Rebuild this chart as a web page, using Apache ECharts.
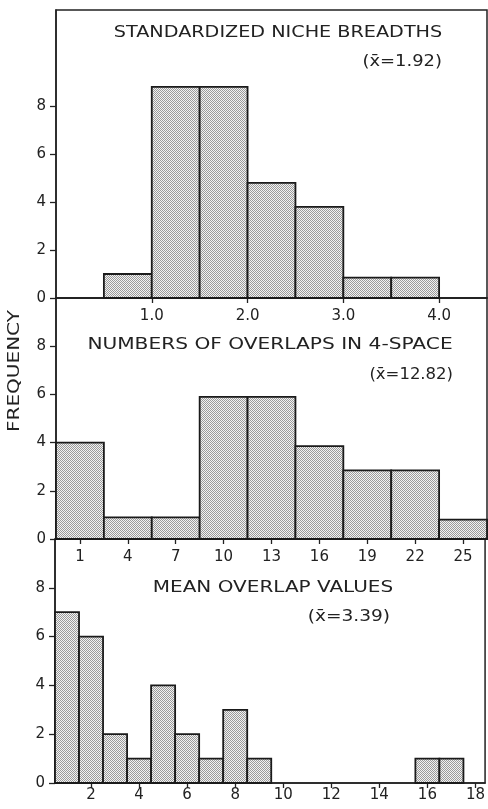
<!DOCTYPE html>
<html>
<head>
<meta charset="utf-8">
<script src="https://cdn.jsdelivr.net/npm/echarts@6/dist/echarts.min.js"></script>
<style>
  html, body { margin: 0; padding: 0; background: #fff; }
  #chart { width: 488px; height: 809px; }
</style>
</head>
<body>
<div id="chart"></div>
<script>
// panel 1: standardized niche breadths (bins of width 0.5)
const nicheBinStart = [0.5, 1.0, 1.5, 2.0, 2.5, 3.0, 3.5];
const nicheFreq = [1, 8.8, 8.8, 4.8, 3.8, 0.85, 0.85];
const nicheTicks = [1, 2, 3, 4];

// panel 2: numbers of overlaps in 4-space (bins of width 3, centred on the label)
const overlapBinCentre = [1, 4, 7, 10, 13, 16, 19, 22, 25];
const overlapFreq = [4, 0.9, 0.9, 5.9, 5.9, 3.85, 2.85, 2.85, 0.8];
const overlapTicks = [1, 4, 7, 10, 13, 16, 19, 22, 25];

// panel 3: mean overlap values (bins of width 1, centred on integers)
const meanBinCentre = [1, 2, 3, 4, 5, 6, 7, 8, 9, 16, 17];
const meanFreq = [7, 6, 2, 1, 4, 2, 1, 3, 1, 1, 1];
const meanTicks = [2, 4, 6, 8, 10, 12, 14, 16, 18];

const freqTicks = [0, 2, 4, 6, 8];

const ink = '#222';
const font = 'DejaVu Sans';

// stippled fill like the printed screen
const dots = document.createElement('canvas');
dots.width = 2;
dots.height = 2;
const dctx = dots.getContext('2d');
dctx.fillStyle = '#f2f2f2';
dctx.fillRect(0, 0, 2, 2);
dctx.fillStyle = '#9a9a9a';
dctx.fillRect(0, 0, 1, 1);
dctx.fillRect(1, 1, 1, 1);
const stipple = { image: dots, repeat: 'repeat' };

function renderBar(params, api)
{
    const p0 = api.coord([api.value(0), api.value(2)]);
    const p1 = api.coord([api.value(1), 0]);
    return {
        type: 'rect',
        shape: { x: p0[0], y: p0[1], width: p1[0] - p0[0], height: p1[1] - p0[1] },
        style: { fill: stipple, stroke: '#1a1a1a', lineWidth: 1.8 }
    };
}

const nicheData = nicheBinStart.map((s, i) => [s, s + 0.5, nicheFreq[i]]);
const overlapData = overlapBinCentre.map((c, i) => [c - 1.5, c + 1.5, overlapFreq[i]]);
const meanData = meanBinCentre.map((c, i) => [c - 0.5, c + 0.5, meanFreq[i]]);

function xAxis(idx, min, max, ticks, fmt, margin)
{
    return {
        type: 'value', gridIndex: idx, min: min, max: max, position: 'bottom',
        axisLine: { show: true, onZero: false, lineStyle: { color: ink, width: 1.5 } },
        axisTick: { show: true, inside: false, length: 5, customValues: ticks, lineStyle: { color: ink, width: 1.3 } },
        axisLabel: { customValues: ticks, formatter: fmt, margin: margin, color: ink, fontFamily: font, fontSize: 15 },
        splitLine: { show: false }
    };
}

function yAxis(idx, max)
{
    return {
        type: 'value', gridIndex: idx, min: 0, max: max, position: 'left',
        axisLine: { show: true, onZero: false, lineStyle: { color: ink, width: 1.5 } },
        axisTick: { show: true, inside: false, length: 6, customValues: freqTicks, lineStyle: { color: ink, width: 1.3 } },
        axisLabel: { customValues: freqTicks, margin: 10, color: ink, fontFamily: font, fontSize: 15 },
        splitLine: { show: false }
    };
}

// lettering in the original is widely spaced, so stretch it sideways
function label(text, x, y, align, stretch)
{
    return {
        type: 'text', x: x, y: y, scaleX: stretch,
        style: { text: text, fill: ink, font: '16px "' + font + '"', align: align, verticalAlign: 'middle' }
    };
}

const chart = echarts.init(document.getElementById('chart'), null, { renderer: 'canvas' });

chart.setOption({
    animation: false,
    grid: [
        { left: 56, right: 1, top: 10, height: 288, show: true, borderColor: ink, borderWidth: 1.5 },
        { left: 56, right: 1, top: 298, height: 241, show: true, borderColor: ink, borderWidth: 1.5 },
        { left: 55, right: 1, top: 539, height: 244, show: true, borderColor: ink, borderWidth: 1.5 }
    ],
    xAxis: [
        xAxis(0, 0, 4.5, nicheTicks, (v) => v.toFixed(1), 11),
        xAxis(1, -0.5, 26.5, overlapTicks, (v) => String(v), 11),
        xAxis(2, 0.5, 18.4, meanTicks, (v) => String(v), 5)
    ],
    yAxis: [yAxis(0, 12), yAxis(1, 10), yAxis(2, 10)],
    series: [
        { type: 'custom', xAxisIndex: 0, yAxisIndex: 0, renderItem: renderBar, encode: { x: [0, 1], y: 2 }, data: nicheData },
        { type: 'custom', xAxisIndex: 1, yAxisIndex: 1, renderItem: renderBar, encode: { x: [0, 1], y: 2 }, data: overlapData },
        { type: 'custom', xAxisIndex: 2, yAxisIndex: 2, renderItem: renderBar, encode: { x: [0, 1], y: 2 }, data: meanData }
    ],
    graphic: [
        label('STANDARDIZED NICHE BREADTHS', 278, 33, 'center', 1.2),
        label('(x\u0304=1.92)', 442, 62, 'right', 1.12),
        label('NUMBERS OF OVERLAPS IN 4-SPACE', 270, 345, 'center', 1.26),
        label('(x\u0304=12.82)', 453, 375, 'right', 1.03),
        label('MEAN OVERLAP VALUES', 273, 588, 'center', 1.25),
        label('(x\u0304=3.39)', 390, 617, 'right', 1.16),
        {
            type: 'text', x: 15, y: 371, rotation: Math.PI / 2, scaleX: 1.25,
            style: { text: 'FREQUENCY', fill: ink, font: '16px "' + font + '"', align: 'center', verticalAlign: 'middle' }
        }
    ]
});
</script>
</body>
</html>
